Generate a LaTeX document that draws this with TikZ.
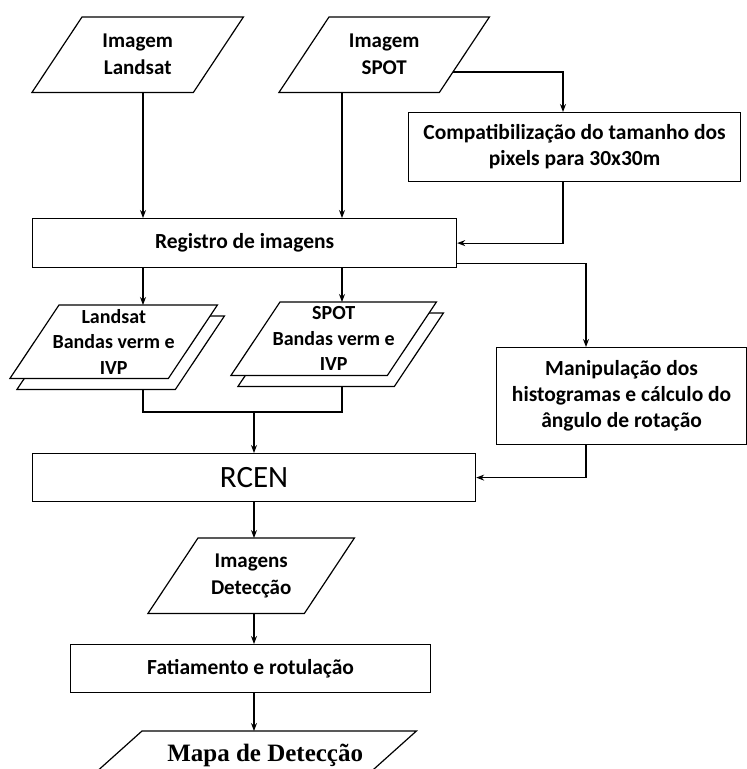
\documentclass[tikz,border=0pt]{standalone}
\usepackage{fontspec}
\setmainfont{Carlito}
\newfontfamily\timesfont{Liberation Serif}
\usetikzlibrary{arrows.meta,calc,backgrounds}

\tikzset{
	linha/.style={line width=1.2pt},
	caixa/.style={draw, linha, anchor=north west, align=center, inner sep=0pt, font=\bfseries\fontsize{21.5}{26}\selectfont},
	paral/.style={anchor=north west, align=center, inner sep=0pt, font=\bfseries\fontsize{21}{27}\selectfont},
	folha/.style={paral, font=\bfseries\fontsize{20}{25.5}\selectfont},
}

% contorno de paralelogramo em volta de um no: nome, inclinacao
\newcommand{\paralelo}[2]{%
	\coordinate (#1-sw) at (#1.south west);
	\coordinate (#1-nw) at ($(#1.north west)+(#2,0)$);
	\coordinate (#1-ne) at (#1.north east);
	\coordinate (#1-se) at ($(#1.south east)-(#2,0)$);
	\draw[linha] (#1-sw) -- (#1-nw) -- (#1-ne) -- (#1-se) -- cycle;}

% dois paralelogramos empilhados (folha de tras deslocada)
\newcommand{\pilha}[2]{%
	\coordinate (#1-sw) at (#1.south west);
	\coordinate (#1-nw) at ($(#1.north west)+(#2,0)$);
	\coordinate (#1-ne) at (#1.north east);
	\coordinate (#1-se) at ($(#1.south east)-(#2,0)$);
	\coordinate (#1-bsw) at ($(#1-sw)+(7,11)$);
	\begin{scope}[on background layer]
		\draw[linha, fill=white] (#1-bsw) -- ($(#1-nw)+(7,11)$) -- ($(#1-ne)+(7,11)$) -- ($(#1-se)+(7,11)$) -- cycle;
		\draw[linha, fill=white] (#1-sw) -- (#1-nw) -- (#1-ne) -- (#1-se) -- cycle;
	\end{scope}}

\begin{document}
\begin{tikzpicture}[x=1pt, y=-1pt, >={Stealth[length=8pt,width=6pt]}]
		\useasboundingbox (0,0) rectangle (747,769);
		\clip (0,0) rectangle (747,769);

		%coordinates
		\coordinate (colL)   at (143,0);
		\coordinate (colS)   at (342,0);
		\coordinate (colC)   at (563,0);
		\coordinate (colR)   at (586,0);
		\coordinate (juncao) at (254,412);

		%nodes
		\node[paral, minimum width=211pt, minimum height=75pt] (imgL) at (32,17) {Imagem\\Landsat};
		\node[paral, minimum width=210pt, minimum height=75pt] (imgS) at (279,17) {Imagem\\SPOT};
		\node[caixa, minimum width=332pt, minimum height=69pt] (compat) at (408,112) {Compatibilização do tamanho dos\\pixels para 30x30m};
		\node[caixa, minimum width=424pt, minimum height=49pt] (registro) at (32,218) {Registro de imagens};
		\node[folha, minimum width=207pt, minimum height=73pt] (bandL) at (10,305) {Landsat\\Bandas verm e\\IVP};
		\node[folha, minimum width=205pt, minimum height=73pt] (bandS) at (231,302) {SPOT\\Bandas verm e\\IVP};
		\node[caixa, minimum width=250pt, minimum height=97pt] (manip) at (496,347) {Manipulação dos\\histogramas e cálculo do\\ângulo de rotação};
		\node[caixa, font=\fontsize{31}{36}\selectfont, minimum width=443pt, minimum height=48pt] (rcen) at (32,453) {RCEN};
		\node[paral, minimum width=206pt, minimum height=75pt] (imgD) at (148,538) {Imagens\\Detecção};
		\node[caixa, minimum width=360pt, minimum height=48pt] (fatia) at (70,644) {Fatiamento e rotulação};
		\node[paral, font=\timesfont\bfseries\fontsize{25}{30}\selectfont, minimum width=328pt, minimum height=48pt] (mapa) at (88,731) {\hspace*{26pt}Mapa de Detecção};

		\paralelo{imgL}{50}
		\paralelo{imgS}{50}
		\pilha{bandL}{49}
		\pilha{bandS}{49}
		\paralelo{imgD}{50}
		\paralelo{mapa}{54}

		%connectors
		\draw[linha,->] (imgL.south -| colL) -- (registro.north -| colL);
		\draw[linha,->] (imgS.south -| colS) -- (registro.north -| colS);
		\draw[linha,->] ($(imgS-ne)!0.73!(imgS-se)$) -| (compat.north -| colC);
		\draw[linha,->] (compat.south -| colC) |- (registro.east);
		\draw[linha,->] ($(registro.south east)+(0,-5)$) -| (manip.north -| colR);
		\draw[linha,->] (registro.south -| colL) -- (bandL.north -| colL);
		\draw[linha,->] (registro.south -| colS) -- (bandS.north -| colS);
		\draw[linha] (bandL-bsw -| colL) |- (juncao) -| (bandS-bsw -| colS);
		\draw[linha,->] (juncao) -- (rcen.north -| juncao);
		\draw[linha,->] (manip.south -| colR) |- (rcen.east);
		\draw[linha,->] (rcen.south -| juncao) -- (imgD.north -| juncao);
		\draw[linha,->] (imgD.south -| juncao) -- (fatia.north -| juncao);
		\draw[linha,->] (fatia.south -| juncao) -- (mapa.north -| juncao);
\end{tikzpicture}
\end{document}
